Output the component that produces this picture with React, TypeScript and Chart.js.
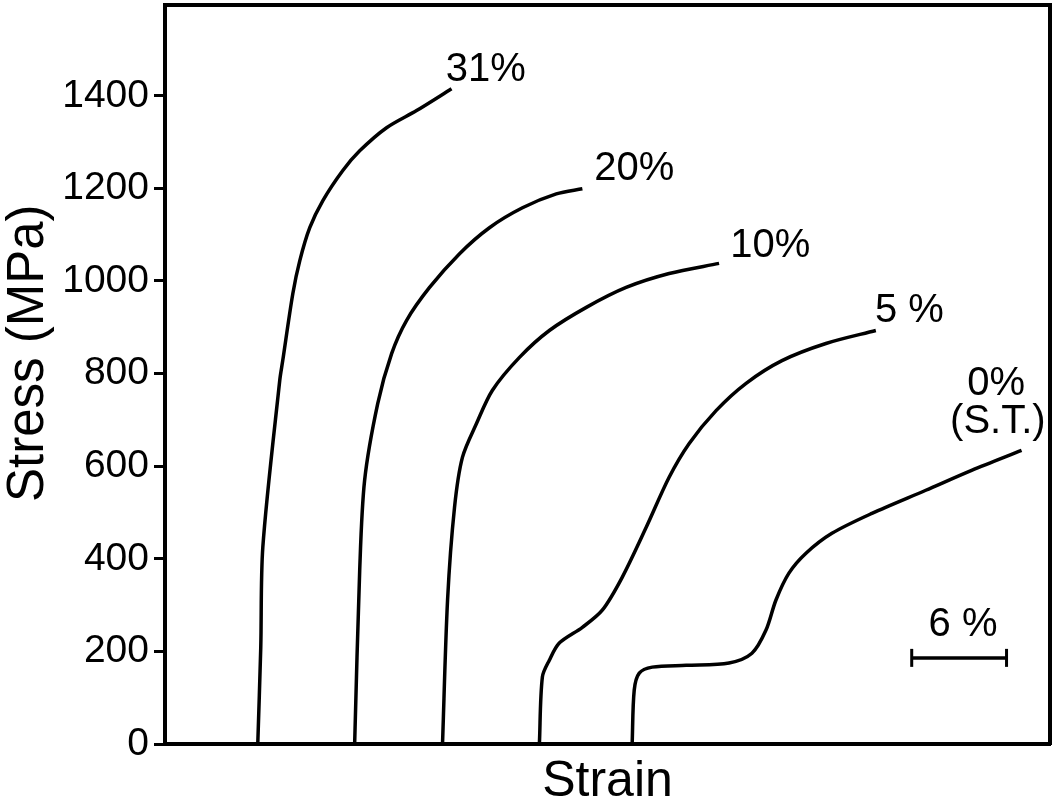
import React, { useEffect, useRef } from "react";
import { Chart, registerables } from "chart.js";

Chart.register(...registerables);

// Strain (%) and stress (MPa)
const strain31 = [5.87, 6.06, 6.19, 7.26, 7.45, 8.09, 8.53, 9.16, 9.98, 11.24, 12.32, 14.02, 15.92, 18.13];
const stress31 = [0, 209, 425, 785, 828, 973, 1044, 1115, 1173, 1238, 1281, 1331, 1368, 1415];

const strain20 = [12.0, 12.32, 12.63, 13.46, 14.34, 15.29, 16.74, 18.64, 20.53, 22.62, 24.76, 26.41];
const stress20 = [0, 375, 569, 735, 843, 915, 986, 1059, 1115, 1158, 1188, 1199];

const strain10 = [17.56, 17.88, 18.32, 18.82, 19.71, 20.72, 22.43, 24.32, 26.66, 29.18, 31.9, 35.06];
const stress10 = [0, 311, 511, 619, 692, 764, 835, 893, 943, 986, 1016, 1038];

const strain5 = [23.69, 23.88, 24.32, 24.95, 26.41, 27.67, 28.93, 30.45, 31.9, 33.17, 34.87, 36.77, 39.04, 41.82, 44.98];
const stress5 = [0, 145, 181, 218, 252, 289, 360, 468, 576, 649, 720, 779, 828, 865, 893];

const strain0 = [29.56, 29.69, 30.01, 30.83, 32.98, 35.69, 37.14, 38.03, 38.66, 39.48, 40.56, 42.2, 44.73, 48.14, 51.04, 54.2];
const stress0 = [0, 116, 153, 166, 170, 175, 196, 246, 311, 369, 412, 455, 498, 548, 591, 634];

const yTicks = [0, 200, 400, 600, 800, 1000, 1200, 1400];

const labelTexts = ["31%", "20%", "10%", "5 %", "0%", "(S.T.)", "6 %"];
const labelStrain = [20.3, 29.7, 38.3, 47.1, 52.6, 52.7, 50.5];
const labelStress = [1456, 1242, 1076, 936, 777, 695, 257];

const scaleBarStrain = [47.25, 53.25];
const scaleBarStress = [186, 186];

const FONT = '"Liberation Sans", Arial, Helvetica, sans-serif';

const toPoints = (xs: number[], ys: number[]) => xs.map((x, i) => ({ x, y: ys[i] }));

const zeroPad = (s: any) => {
  s.paddingTop = 0;
  s.paddingBottom = 0;
  s.paddingLeft = 0;
  s.paddingRight = 0;
};

const labelPlugin = {
  id: "curveLabels",
  afterDatasetsDraw(chart: any) {
    const { ctx, scales } = chart;
    const xs = scales.x;
    const ys = scales.y;
    ctx.save();
    ctx.font = `40px ${FONT}`;
    ctx.fillStyle = "#000";
    ctx.textAlign = "center";
    ctx.textBaseline = "middle";
    labelTexts.forEach((t, i) => {
      ctx.fillText(t, xs.getPixelForValue(labelStrain[i]), ys.getPixelForValue(labelStress[i]));
    });
    ctx.restore();
  },
};

export default function App() {
  const canvasRef = useRef<HTMLCanvasElement | null>(null);

  useEffect(() => {
    document.body.style.margin = "0";
    const canvas = canvasRef.current;
    if (!canvas) return;
    const curve = (xs: number[], ys: number[]) => ({
      data: toPoints(xs, ys),
      showLine: true,
      borderColor: "#000",
      backgroundColor: "#000",
      borderWidth: 3.5,
      pointRadius: 0,
      tension: 0.3,
      fill: false,
    });
    const chart = new Chart(canvas, {
      type: "scatter",
      data: {
        datasets: [
          curve(strain31, stress31),
          curve(strain20, stress20),
          curve(strain10, stress10),
          curve(strain5, stress5),
          curve(strain0, stress0),
          {
            data: toPoints(scaleBarStrain, scaleBarStress),
            showLine: true,
            borderColor: "#000",
            backgroundColor: "#000",
            borderWidth: 3.5,
            pointStyle: "line",
            rotation: 90,
            pointRadius: 9,
            pointBorderWidth: 3,
            tension: 0,
          } as any,
        ],
      },
      options: {
        animation: false,
        responsive: false,
        events: [],
        layout: { autoPadding: false, padding: { left: 0, right: 4, top: 5, bottom: 0 } },
        plugins: { legend: { display: false }, tooltip: { enabled: false } },
        scales: {
          x: {
            type: "linear",
            position: "bottom",
            min: 0,
            max: 56,
            afterFit: (s: any) => {
              s.height = 63;
              zeroPad(s);
            },
            ticks: { display: false },
            grid: { display: false },
            border: { display: true, color: "#000", width: 4 },
            title: {
              display: true,
              text: "Strain",
              color: "#000",
              font: { family: FONT, size: 50, lineHeight: 1 },
              padding: { top: 0, bottom: 0 },
            },
          },
          x2: {
            type: "linear",
            position: "top",
            min: 0,
            max: 56,
            afterFit: (s: any) => {
              s.height = 0;
              zeroPad(s);
            },
            ticks: { display: false },
            grid: { display: false },
            border: { display: true, color: "#000", width: 4 },
          },
          y: {
            type: "linear",
            position: "left",
            min: 0,
            max: 1596,
            afterBuildTicks: (s: any) => {
              s.ticks = yTicks.map((v) => ({ value: v }));
            },
            afterFit: (s: any) => {
              s.width = 165;
              zeroPad(s);
            },
            ticks: {
              color: "#000",
              font: { family: FONT, size: 39 },
              padding: 5,
              callback: (v: any) => String(v),
            },
            grid: {
              display: true,
              drawOnChartArea: false,
              drawTicks: true,
              tickLength: 11,
              color: "#000",
              lineWidth: 3,
            },
            border: { display: true, color: "#000", width: 4 },
            title: {
              display: true,
              text: "   Stress (MPa)",
              color: "#000",
              font: { family: FONT, size: 51, lineHeight: 1 },
              padding: { top: 3, bottom: 0 },
            },
          },
          y2: {
            type: "linear",
            position: "right",
            min: 0,
            max: 1596,
            afterFit: (s: any) => {
              s.width = 0;
              zeroPad(s);
            },
            ticks: { display: false },
            grid: { display: false },
            border: { display: true, color: "#000", width: 4 },
          },
        },
      } as any,
      plugins: [labelPlugin],
    });
    return () => chart.destroy();
  }, []);

  return (
    <div style={{ width: 1054, height: 807, background: "#fff" }}>
      <canvas ref={canvasRef} width={1054} height={807} style={{ display: "block" }} />
    </div>
  );
}
